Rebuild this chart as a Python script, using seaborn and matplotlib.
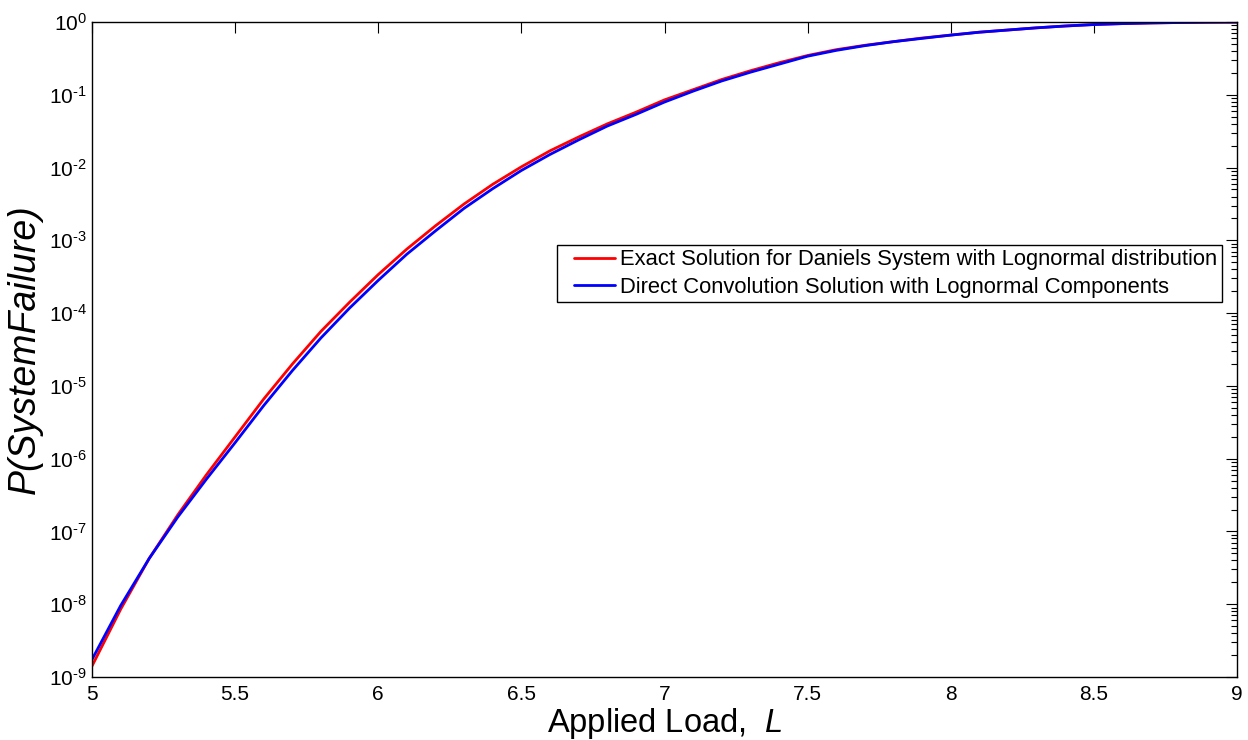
import numpy as np
import pandas as pd
import matplotlib
matplotlib.use("Agg")
import matplotlib.pyplot as plt
import seaborn as sns
from matplotlib.ticker import LogLocator, FixedLocator, NullFormatter
from matplotlib.legend_handler import HandlerLine2D
from matplotlib.lines import Line2D

# ---- data ----
load = [5.0, 5.1, 5.2, 5.3, 5.4, 5.5, 5.6, 5.7, 5.8, 5.9,
        6.0, 6.1, 6.2, 6.3, 6.4, 6.5, 6.6, 6.7, 6.8, 6.9,
        7.0, 7.1, 7.2, 7.3, 7.4, 7.5, 7.6, 7.7, 7.8, 7.9,
        8.0, 8.1, 8.2, 8.3, 8.4, 8.5, 8.6, 8.7, 8.8, 8.9, 9.0]

# log10 of P(System Failure), exact Daniels solution (red)
exact_log10 = [-8.85, -8.07, -7.37, -6.77, -6.22, -5.70, -5.18, -4.70, -4.25, -3.85,
               -3.47, -3.12, -2.80, -2.50, -2.23, -1.99, -1.77, -1.58, -1.40, -1.24,
               -1.07, -0.93, -0.79, -0.67, -0.56, -0.46, -0.38, -0.32, -0.27, -0.22,
               -0.18, -0.14, -0.11, -0.08, -0.055, -0.035, -0.022, -0.013, -0.007, -0.003, -0.001]

# log10 of P(System Failure), direct convolution (blue)
conv_log10 = [-8.76, -8.02, -7.37, -6.80, -6.28, -5.78, -5.27, -4.79, -4.34, -3.93,
              -3.55, -3.19, -2.87, -2.56, -2.29, -2.04, -1.82, -1.62, -1.43, -1.27,
              -1.10, -0.95, -0.81, -0.69, -0.58, -0.47, -0.39, -0.325, -0.27, -0.225,
              -0.18, -0.14, -0.11, -0.08, -0.055, -0.035, -0.022, -0.013, -0.007, -0.003, -0.001]

labels = ["Exact Solution for Daniels System with Lognormal distribution",
          "Direct Convolution Solution with Lognormal Components"]
x_ticks = [5, 5.5, 6, 6.5, 7, 7.5, 8, 8.5, 9]
x_tick_labels = ["5", "5.5", "6", "6.5", "7", "7.5", "8", "8.5", "9"]
y_decades = list(range(-9, 1))

df = pd.DataFrame({
    "L": load + load,
    "P": list(10 ** np.array(exact_log10)) + list(10 ** np.array(conv_log10)),
    "series": [labels[0]] * len(load) + [labels[1]] * len(load),
})

sns.set_style("white")
plt.rcParams["font.family"] = ["Liberation Sans", "DejaVu Sans"]
plt.rcParams["mathtext.fontset"] = "custom"
plt.rcParams["mathtext.rm"] = "Liberation Sans"
plt.rcParams["mathtext.it"] = "Liberation Sans:italic"
plt.rcParams["text.color"] = "black"
plt.rcParams["axes.labelcolor"] = "black"
plt.rcParams["xtick.color"] = "black"
plt.rcParams["ytick.color"] = "black"

fig = plt.figure(figsize=(12.48, 7.40), dpi=100)
ax = fig.add_axes([92 / 1248, 63 / 740, 1145 / 1248, 655 / 740])

sns.lineplot(data=df, x="L", y="P", hue="series", hue_order=labels,
             palette=["#ff0000", "#0000ff"], linewidth=2.0, ax=ax,
             estimator=None, sort=False)

ax.set_yscale("log")
ax.set_xlim(5, 9)
ax.set_ylim(1e-9, 1)

ax.xaxis.set_major_locator(FixedLocator(x_ticks))
ax.set_xticklabels(x_tick_labels)
ax.yaxis.set_major_locator(FixedLocator([10.0 ** d for d in y_decades]))
ax.set_yticklabels([f"$10^{{\\text{{{d}}}}}$" for d in y_decades])
ax.yaxis.set_minor_locator(LogLocator(base=10, subs=np.arange(2, 10), numticks=100))
ax.yaxis.set_minor_formatter(NullFormatter())

ax.tick_params(axis="both", which="both", direction="in", top=True, right=True,
               labelsize=15, color="black", labelcolor="black")
ax.tick_params(axis="both", which="major", length=8, width=0.8)
ax.tick_params(axis="y", which="minor", length=4, width=0.8)
ax.tick_params(axis="x", which="major", pad=6)

for sp in ax.spines.values():
    sp.set_color("black")
    sp.set_linewidth(1.0)

ax.set_xlabel("Applied Load,  $L$", fontsize=23.5, labelpad=1, color="black")
ax.set_ylabel("P(SystemFailure)", fontsize=27, fontstyle="italic", color="black")
ax.yaxis.set_label_coords(-0.0428, 0.5)

leg = ax.legend(loc="upper right", bbox_to_anchor=(0.9869, 0.6595), fontsize=15.8,
                frameon=True, fancybox=False, framealpha=1, borderpad=0.2,
                handlelength=2.48, handletextpad=0.23, labelspacing=0.3,
                borderaxespad=0,
                handler_map={Line2D: HandlerLine2D(xpad=0.57)})
leg.get_frame().set_edgecolor("black")
leg.get_frame().set_linewidth(1.0)
for line in leg.get_lines():
    line.set_linewidth(2.0)
for t in leg.get_texts():
    t.set_color("black")

fig.savefig("out.png", dpi=100)
